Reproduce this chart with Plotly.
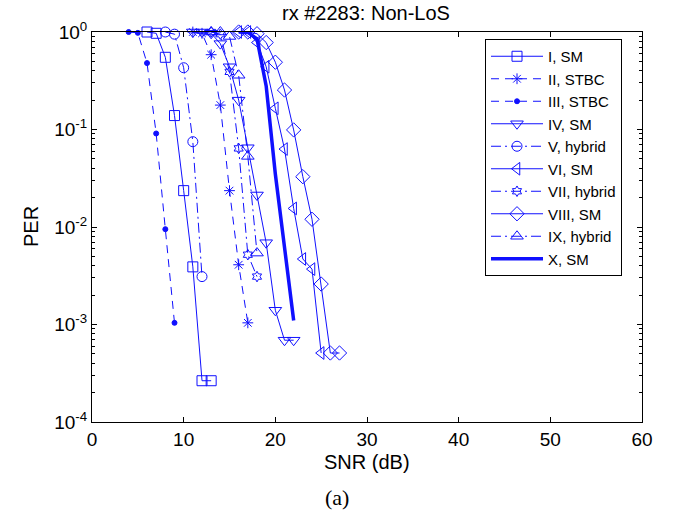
import plotly.graph_objects as go

# ---- data ----
snr_I = [6, 7, 8, 9, 10, 11, 12, 13]
per_I = [1.0, 0.97, 0.55, 0.139, 0.0236, 0.0039, 0.000265, 0.000265]

snr_II = [11, 12, 13, 14, 15, 16, 17]
per_II = [1.0, 0.97, 0.585, 0.178, 0.0236, 0.0041, 0.00104]

snr_III = [4, 5, 6, 7, 8, 9]
per_III = [1.0, 0.98, 0.48, 0.091, 0.0095, 0.00104]

snr_IV = [11, 12, 13, 14, 15, 16, 17, 18, 19, 20, 21, 22]
per_IV = [1.0, 1.0, 0.97, 0.76, 0.44, 0.2, 0.065, 0.0213, 0.0069, 0.0014, 0.00069, 0.00069]

snr_V = [8, 9, 10, 11, 12]
per_V = [1.0, 0.95, 0.43, 0.075, 0.0031]

snr_VI = [16, 17, 18, 19, 20, 21, 22, 23, 24, 25]
per_VI = [1.0, 1.0, 0.78, 0.44, 0.165, 0.063, 0.0155, 0.0047, 0.0037, 0.00051]

snr_VII = [13, 14, 15, 16, 17, 18]
per_VII = [1.0, 0.95, 0.39, 0.064, 0.0052, 0.0031]

snr_VIII = [16, 17, 18, 19, 20, 21, 22, 23, 24, 25, 26, 27]
per_VIII = [1.0, 1.0, 0.96, 0.78, 0.49, 0.254, 0.099, 0.0328, 0.012, 0.0026, 0.00051, 0.00051]

snr_IX = [13, 14, 15, 16, 17, 18]
per_IX = [1.0, 1.0, 0.9, 0.36, 0.053, 0.0054]

snr_X = [16, 17, 18, 19, 20, 21, 22]
per_X = [1.0, 0.99, 0.85, 0.28, 0.035, 0.0058, 0.0011]

names = ["I, SM", "II, STBC", "III, STBC", "IV, SM", "V, hybrid",
         "VI, SM", "VII, hybrid", "VIII, SM", "IX, hybrid", "X, SM"]

xticks = [0, 10, 20, 30, 40, 50, 60]
yticks = [1, 0.1, 0.01, 0.001, 0.0001]
yticktext = ["10<sup>0</sup>", "10<sup>-1</sup>", "10<sup>-2</sup>", "10<sup>-3</sup>", "10<sup>-4</sup>"]

# ---- figure ----
BLUE = "#1010ff"
FONT = "Liberation Sans, Arial"
W, H = 674, 516
L, R, T, B = 92, 642, 32, 422

def px(x):
    return (x - L) / (R - L)

def py(y):
    return (B - y) / (B - T)

series = [
    (snr_I, per_I, "square-open", 10, "solid", 1),
    (snr_II, per_II, "asterisk-open", 9, "8px,6px", 1),
    (snr_III, per_III, "circle", 5, "8px,6px", 1),
    (snr_IV, per_IV, "triangle-down-open", 11, "solid", 1),
    (snr_V, per_V, "circle-open", 10, "10px,4px,2px,4px", 1),
    (snr_VI, per_VI, "triangle-left-open", 11, "solid", 1),
    (snr_VII, per_VII, "hexagram-open", 8, "10px,4px,2px,4px", 1),
    (snr_VIII, per_VIII, "diamond-open", 11, "solid", 1),
    (snr_IX, per_IX, "triangle-up-open", 11, "10px,4px,2px,4px", 1),
    (snr_X, per_X, None, 0, "solid", 3.5),
]

fig = go.Figure()
for (xs, ys, sym, sz, dash, lw), nm in zip(series, names):
    if sym is None:
        fig.add_trace(go.Scatter(x=xs, y=ys, name=nm, mode="lines",
                                 line=dict(color=BLUE, width=lw, dash=dash),
                                 cliponaxis=False))
    else:
        fig.add_trace(go.Scatter(x=xs, y=ys, name=nm, mode="lines+markers",
                                 line=dict(color=BLUE, width=lw, dash=dash),
                                 marker=dict(symbol=sym, size=sz, color=BLUE,
                                             line=dict(color=BLUE, width=1)),
                                 cliponaxis=False))

axis_common = dict(showgrid=False, zeroline=False, showline=True, linecolor="black",
                   linewidth=1, mirror="ticks", ticks="inside", ticklen=5,
                   tickcolor="black",
                   tickfont=dict(family=FONT, size=19, color="black"))

fig.update_xaxes(range=[0, 60], tickvals=xticks, **axis_common)
fig.update_yaxes(type="log", range=[-4, 0], tickvals=yticks, ticktext=yticktext,
                 minor=dict(ticks="inside", ticklen=3, tickcolor="black",
                            dtick="D1", showgrid=False),
                 **axis_common)

def ann(text, x, y, size, family=FONT, angle=0):
    return dict(text=text, x=px(x), y=py(y), xref="paper", yref="paper",
                xanchor="center", yanchor="middle", textangle=angle,
                showarrow=False, font=dict(family=family, size=size, color="black"))

fig.update_layout(
    width=W, height=H,
    margin=dict(l=L, r=W - R, t=T, b=H - B),
    paper_bgcolor="white", plot_bgcolor="white",
    showlegend=True,
    legend=dict(x=px(485), y=py(39), xanchor="left", yanchor="top",
                bordercolor="black", borderwidth=1, bgcolor="white",
                font=dict(family=FONT, size=15, color="black"),
                tracegroupgap=0, itemwidth=52),
    annotations=[
        ann("rx #2283: Non-LoS", 366, 13, 20),
        ann("PER", 31, 227, 20, angle=-90),
        ann("SNR (dB)", 367, 462, 20),
        ann("(a)", 337, 497, 22, family="Liberation Serif, Times New Roman"),
    ],
)

fig.write_html("out.html")
